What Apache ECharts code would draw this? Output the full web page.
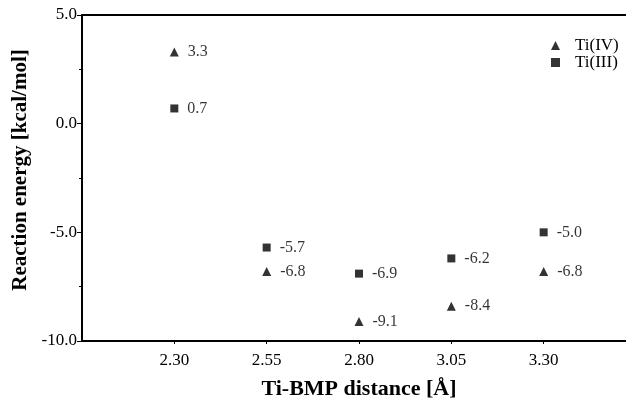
<!DOCTYPE html>
<html>
<head>
<meta charset="utf-8">
<script src="https://cdn.jsdelivr.net/npm/echarts@6/dist/echarts.min.js"></script>
<style>
html,body{margin:0;padding:0;background:#fff;}
#chart{width:626px;height:407px;}
</style>
</head>
<body>
<div id="chart"></div>
<script>
var distances = [2.30, 2.55, 2.80, 3.05, 3.30];
var tiIV = [3.3, -6.8, -9.1, -8.4, -6.8];
var tiIII = [0.7, -5.7, -6.9, -6.2, -5.0];
var xTickLabels = [2.30, 2.55, 2.80, 3.05, 3.30];

var serif = 'Liberation Serif';
function pairs(xs, ys){ return xs.map(function(x,i){ return [x, ys[i]]; }); }

var chart = echarts.init(document.getElementById('chart'));
var labelOpt = {
  show: true, position: 'right', distance: 9,
  color: '#000', fontFamily: serif, fontSize: 16,
  formatter: function(p){ return p.value[1].toFixed(1); }
};
chart.setOption({
  animation: false,
  backgroundColor: '#fff',
  grid: {left: 82, top: 15, right: -10, bottom: 66, containLabel: false, outerBoundsMode: 'none'},
  legend: {
    orient: 'vertical', left: 546, top: 32,
    itemWidth: 9, itemHeight: 9, itemGap: 0,
    textStyle: {fontFamily: serif, fontSize: 17, color: '#000', padding: [0, 0, 0, 10]},
    data: [{name: 'Ti(IV)', icon: 'triangle'}, {name: 'Ti(III)', icon: 'rect'}]
  },
  xAxis: [{
    type: 'value', min: 2.05, max: 3.55, position: 'bottom',
    name: 'Ti-BMP distance [Å]', nameLocation: 'middle', nameGap: 37,
    nameTextStyle: {fontFamily: serif, fontSize: 22, fontWeight: 'bold', color: '#000'},
    axisLine: {show: true, onZero: false, lineStyle: {color: '#000', width: 2}},
    axisTick: {show: true, length: 3, lineStyle: {color: '#000', width: 1}, customValues: xTickLabels},
    axisLabel: {fontFamily: serif, fontSize: 17, color: '#000', margin: 11,
      customValues: xTickLabels, formatter: function(v){ return v.toFixed(2); }},
    splitLine: {show: false}
  }, {
    type: 'value', min: 2.05, max: 3.55, position: 'top',
    axisLine: {show: true, onZero: false, lineStyle: {color: '#000', width: 2}},
    axisTick: {show: false}, axisLabel: {show: false}, splitLine: {show: false}
  }],
  yAxis: {
    type: 'value', min: -10, max: 5, interval: 5,
    name: 'Reaction energy [kcal/mol]', nameLocation: 'middle', nameGap: 49,
    nameTextStyle: {fontFamily: serif, fontSize: 21, fontWeight: 'bold', color: '#000', padding: [0, 0, 0, 16]},
    axisLine: {show: true, onZero: false, lineStyle: {color: '#000', width: 2}},
    axisTick: {show: true, length: 5, lineStyle: {color: '#000', width: 1}},
    minorTick: {show: true, splitNumber: 2, length: 3, lineStyle: {color: '#000', width: 1}},
    axisLabel: {fontFamily: serif, fontSize: 17, color: '#000', margin: 5,
      formatter: function(v){ return v.toFixed(1); }},
    splitLine: {show: false}
  },
  series: [{
    name: 'Ti(IV)', type: 'scatter', symbol: 'triangle', symbolSize: 9, symbolKeepAspect: true,
    itemStyle: {color: '#000'}, label: labelOpt,
    data: pairs(distances, tiIV)
  }, {
    name: 'Ti(III)', type: 'scatter', symbol: 'rect', symbolSize: 8, symbolKeepAspect: true,
    itemStyle: {color: '#000'}, label: labelOpt,
    data: pairs(distances, tiIII)
  }]
});
</script>
</body>
</html>
